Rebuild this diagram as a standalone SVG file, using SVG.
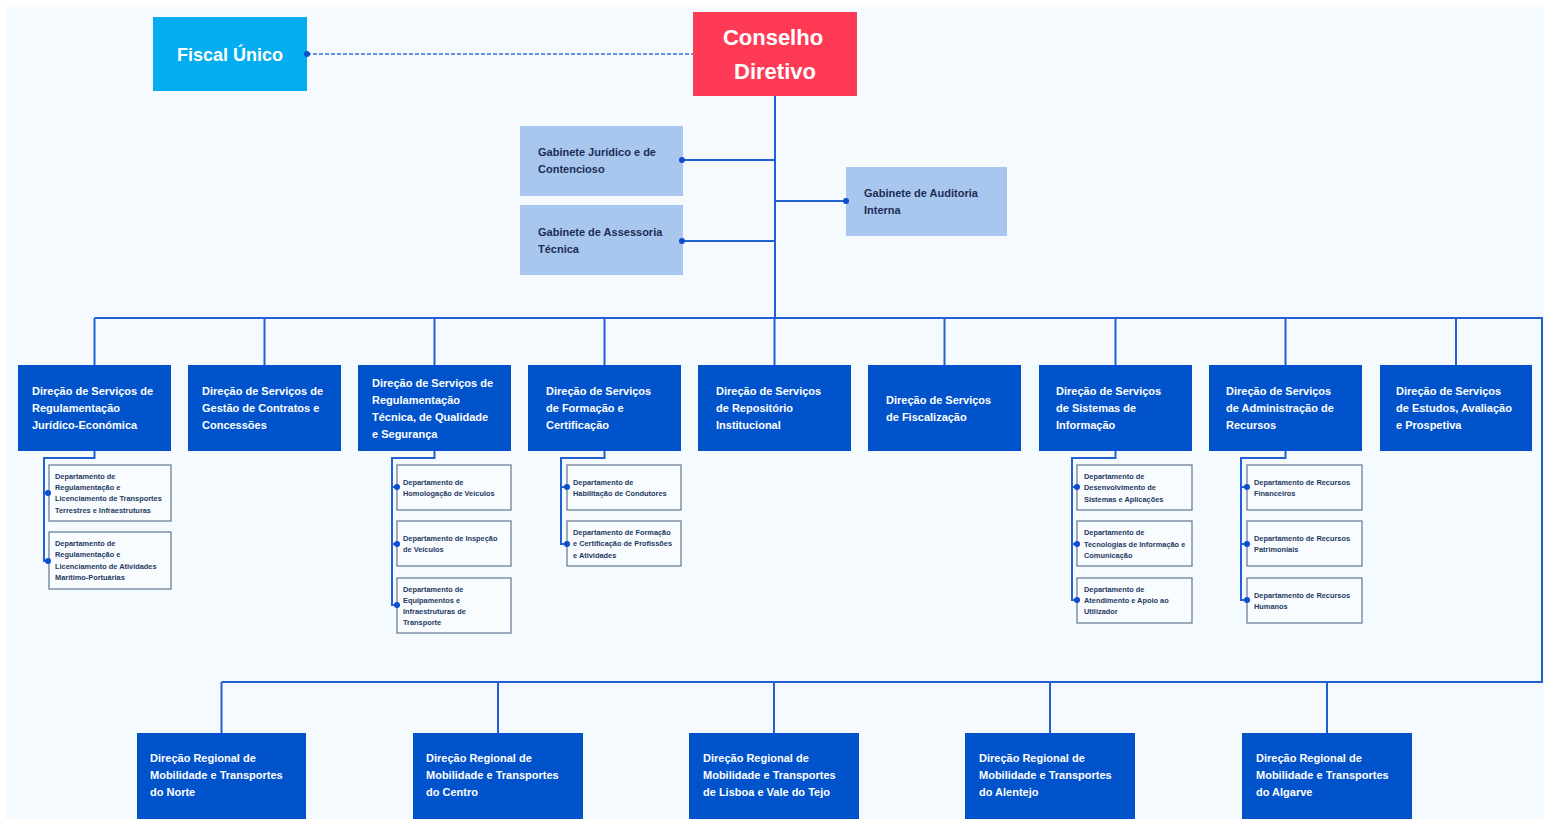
<svg xmlns="http://www.w3.org/2000/svg" width="1544" height="819" viewBox="0 0 1544 819">
<style>
.bg{fill:#F5FAFE}
.ds{fill:#0153CC}
.gb{fill:#A9C7EE}
.sub{fill:#F9FCFF;stroke:#6A8199;stroke-width:1.3}
.ln{fill:none;stroke:#2360D4;stroke-width:2}
.dash{fill:none;stroke:#3A6FD8;stroke-width:1.5;stroke-dasharray:4 2}
.dot{fill:#0A4FD0}
text{font-family:"Liberation Sans",Arial,sans-serif;font-weight:bold}
.tw{fill:#fff;font-size:11px}
.tg{fill:#1B2D55;font-size:11px}
.ts{fill:#1E3A5F;font-size:7.4px}
.big{fill:#fff;font-size:22px;text-anchor:middle}
</style>
<rect x="6" y="7" width="1538" height="812" class="bg"/>
<g id="fiscal"><rect x="153" y="17" width="154" height="74" fill="#03ADEF"/><text x="230" y="61" fill="#fff" font-size="18" text-anchor="middle">Fiscal Único</text></g>
<g id="conselho"><rect x="693" y="12" width="164" height="84" fill="#FF3A55"/><text class="big" x="773" y="45">Conselho</text><text class="big" x="775" y="79">Diretivo</text></g>
<g id="gab-juridico"><rect class="gb" x="520" y="126" width="163" height="70"/><text class="tg" x="538" y="156">Gabinete Jurídico e de</text><text class="tg" x="538" y="173">Contencioso</text></g>
<g id="gab-assessoria"><rect class="gb" x="520" y="205" width="163" height="70"/><text class="tg" x="538" y="236">Gabinete de Assessoria</text><text class="tg" x="538" y="253">Técnica</text></g>
<g id="gab-auditoria"><rect class="gb" x="846" y="167" width="161" height="69"/><text class="tg" x="864" y="197">Gabinete de Auditoria</text><text class="tg" x="864" y="214">Interna</text></g>

<g id="ds1"><rect class="ds" x="18" y="365" width="153" height="86"/><text class="tw" x="32" y="395">Direção de Serviços de</text><text class="tw" x="32" y="412">Regulamentação</text><text class="tw" x="32" y="429">Jurídico-Económica</text></g>
<g id="ds2"><rect class="ds" x="188" y="365" width="153" height="86"/><text class="tw" x="202" y="395">Direção de Serviços de</text><text class="tw" x="202" y="412">Gestão de Contratos e</text><text class="tw" x="202" y="429">Concessões</text></g>
<g id="ds3"><rect class="ds" x="358" y="365" width="153" height="86"/><text class="tw" x="372" y="387">Direção de Serviços de</text><text class="tw" x="372" y="404">Regulamentação</text><text class="tw" x="372" y="421">Técnica, de Qualidade</text><text class="tw" x="372" y="438">e Segurança</text></g>
<g id="ds4"><rect class="ds" x="528" y="365" width="153" height="86"/><text class="tw" x="546" y="395">Direção de Serviços</text><text class="tw" x="546" y="412">de Formação e</text><text class="tw" x="546" y="429">Certificação</text></g>
<g id="ds5"><rect class="ds" x="698" y="365" width="153" height="86"/><text class="tw" x="716" y="395">Direção de Serviços</text><text class="tw" x="716" y="412">de Repositório</text><text class="tw" x="716" y="429">Institucional</text></g>
<g id="ds6"><rect class="ds" x="868" y="365" width="153" height="86"/><text class="tw" x="886" y="404">Direção de Serviços</text><text class="tw" x="886" y="421">de Fiscalização</text></g>
<g id="ds7"><rect class="ds" x="1039" y="365" width="153" height="86"/><text class="tw" x="1056" y="395">Direção de Serviços</text><text class="tw" x="1056" y="412">de Sistemas de</text><text class="tw" x="1056" y="429">Informação</text></g>
<g id="ds8"><rect class="ds" x="1209" y="365" width="153" height="86"/><text class="tw" x="1226" y="395">Direção de Serviços</text><text class="tw" x="1226" y="412">de Administração de</text><text class="tw" x="1226" y="429">Recursos</text></g>
<g id="ds9"><rect class="ds" x="1380" y="365" width="152" height="86"/><text class="tw" x="1396" y="395">Direção de Serviços</text><text class="tw" x="1396" y="412">de Estudos, Avaliação</text><text class="tw" x="1396" y="429">e Prospetiva</text></g>

<g id="dep1a"><rect class="sub" x="49" y="465" width="122" height="56"/><text class="ts" x="55" y="479">Departamento de</text><text class="ts" x="55" y="490">Regulamentação e</text><text class="ts" x="55" y="501">Licenciamento de Transportes</text><text class="ts" x="55" y="513">Terrestres e Infraestruturas</text></g>
<g id="dep1b"><rect class="sub" x="49" y="532" width="122" height="57"/><text class="ts" x="55" y="546">Departamento de</text><text class="ts" x="55" y="557">Regulamentação e</text><text class="ts" x="55" y="569">Licenciamento de Atividades</text><text class="ts" x="55" y="580">Marítimo-Portuárias</text></g>

<g id="dep3a"><rect class="sub" x="397" y="465" width="114" height="45"/><text class="ts" x="403" y="485">Departamento de</text><text class="ts" x="403" y="496">Homologação de Veículos</text></g>
<g id="dep3b"><rect class="sub" x="397" y="521" width="114" height="45"/><text class="ts" x="403" y="541">Departamento de Inspeção</text><text class="ts" x="403" y="552">de Veículos</text></g>
<g id="dep3c"><rect class="sub" x="397" y="578" width="114" height="55"/><text class="ts" x="403" y="592">Departamento de</text><text class="ts" x="403" y="603">Equipamentos e</text><text class="ts" x="403" y="614">Infraestruturas de</text><text class="ts" x="403" y="625">Transporte</text></g>

<g id="dep4a"><rect class="sub" x="567" y="465" width="114" height="45"/><text class="ts" x="573" y="485">Departamento de</text><text class="ts" x="573" y="496">Habilitação de Condutores</text></g>
<g id="dep4b"><rect class="sub" x="567" y="521" width="114" height="45"/><text class="ts" x="573" y="535">Departamento de Formação</text><text class="ts" x="573" y="546">e Certificação de Profissões</text><text class="ts" x="573" y="558">e Atividades</text></g>

<g id="dep7a"><rect class="sub" x="1077" y="465" width="115" height="45"/><text class="ts" x="1084" y="479">Departamento de</text><text class="ts" x="1084" y="490">Desenvolvimento de</text><text class="ts" x="1084" y="502">Sistemas e Aplicações</text></g>
<g id="dep7b"><rect class="sub" x="1077" y="521" width="115" height="45"/><text class="ts" x="1084" y="535">Departamento de</text><text class="ts" x="1084" y="547">Tecnologias de Informação e</text><text class="ts" x="1084" y="558">Comunicação</text></g>
<g id="dep7c"><rect class="sub" x="1077" y="578" width="115" height="45"/><text class="ts" x="1084" y="592">Departamento de</text><text class="ts" x="1084" y="603">Atendimento e Apoio ao</text><text class="ts" x="1084" y="614">Utilizador</text></g>

<g id="dep8a"><rect class="sub" x="1247" y="465" width="115" height="45"/><text class="ts" x="1254" y="485">Departamento de Recursos</text><text class="ts" x="1254" y="496">Financeiros</text></g>
<g id="dep8b"><rect class="sub" x="1247" y="521" width="115" height="45"/><text class="ts" x="1254" y="541">Departamento de Recursos</text><text class="ts" x="1254" y="552">Patrimoniais</text></g>
<g id="dep8c"><rect class="sub" x="1247" y="578" width="115" height="45"/><text class="ts" x="1254" y="598">Departamento de Recursos</text><text class="ts" x="1254" y="609">Humanos</text></g>

<g id="dr-norte"><rect class="ds" x="137" y="733" width="169" height="86"/><text class="tw" x="150" y="762">Direção Regional de</text><text class="tw" x="150" y="779">Mobilidade e Transportes</text><text class="tw" x="150" y="796">do Norte</text></g>
<g id="dr-centro"><rect class="ds" x="413" y="733" width="170" height="86"/><text class="tw" x="426" y="762">Direção Regional de</text><text class="tw" x="426" y="779">Mobilidade e Transportes</text><text class="tw" x="426" y="796">do Centro</text></g>
<g id="dr-lisboa"><rect class="ds" x="689" y="733" width="170" height="86"/><text class="tw" x="703" y="762">Direção Regional de</text><text class="tw" x="703" y="779">Mobilidade e Transportes</text><text class="tw" x="703" y="796">de Lisboa e Vale do Tejo</text></g>
<g id="dr-alentejo"><rect class="ds" x="965" y="733" width="170" height="86"/><text class="tw" x="979" y="762">Direção Regional de</text><text class="tw" x="979" y="779">Mobilidade e Transportes</text><text class="tw" x="979" y="796">do Alentejo</text></g>
<g id="dr-algarve"><rect class="ds" x="1242" y="733" width="170" height="86"/><text class="tw" x="1256" y="762">Direção Regional de</text><text class="tw" x="1256" y="779">Mobilidade e Transportes</text><text class="tw" x="1256" y="796">do Algarve</text></g>

<g id="connectors">
<path class="dash" d="M307 54H693"/>
<path class="ln" d="M775 96V318"/>
<path class="ln" d="M683 160H775M683 241H775M775 201H846"/>
<path class="ln" d="M94.5 318H1542V682H221.5"/>
<path class="ln" d="M94.5 318V365M264.5 318V365M434.5 318V365M604.5 318V365M774.5 318V365M944.5 318V365M1115.5 318V365M1285.5 318V365M1456 318V365"/>
<path class="ln" d="M221.5 682V733M498 682V733M774 682V733M1050 682V733M1327 682V733"/>
<path class="ln" d="M94.5 451V458H44V561H48M44 493H48"/>
<path class="ln" d="M434.5 451V458H392V605H396M392 487H396M392 544H396"/>
<path class="ln" d="M604.5 451V458H561V544H566M561 487H566"/>
<path class="ln" d="M1115.5 451V458H1072V600H1076M1072 487H1076M1072 544H1076"/>
<path class="ln" d="M1285.5 451V458H1241V600H1246M1241 487H1246M1241 544H1246"/>
<circle class="dot" cx="307" cy="54" r="3"/>
<circle class="dot" cx="682" cy="160" r="3"/>
<circle class="dot" cx="682" cy="241" r="3"/>
<circle class="dot" cx="846" cy="201" r="3"/>
<circle class="dot" cx="48" cy="493" r="3"/><circle class="dot" cx="48" cy="561" r="3"/>
<circle class="dot" cx="397" cy="487" r="3"/><circle class="dot" cx="397" cy="544" r="3"/><circle class="dot" cx="397" cy="605" r="3"/>
<circle class="dot" cx="567" cy="487" r="3"/><circle class="dot" cx="567" cy="544" r="3"/>
<circle class="dot" cx="1077" cy="487" r="3"/><circle class="dot" cx="1077" cy="544" r="3"/><circle class="dot" cx="1077" cy="600" r="3"/>
<circle class="dot" cx="1247" cy="487" r="3"/><circle class="dot" cx="1247" cy="544" r="3"/><circle class="dot" cx="1247" cy="600" r="3"/>
</g>
</svg>
